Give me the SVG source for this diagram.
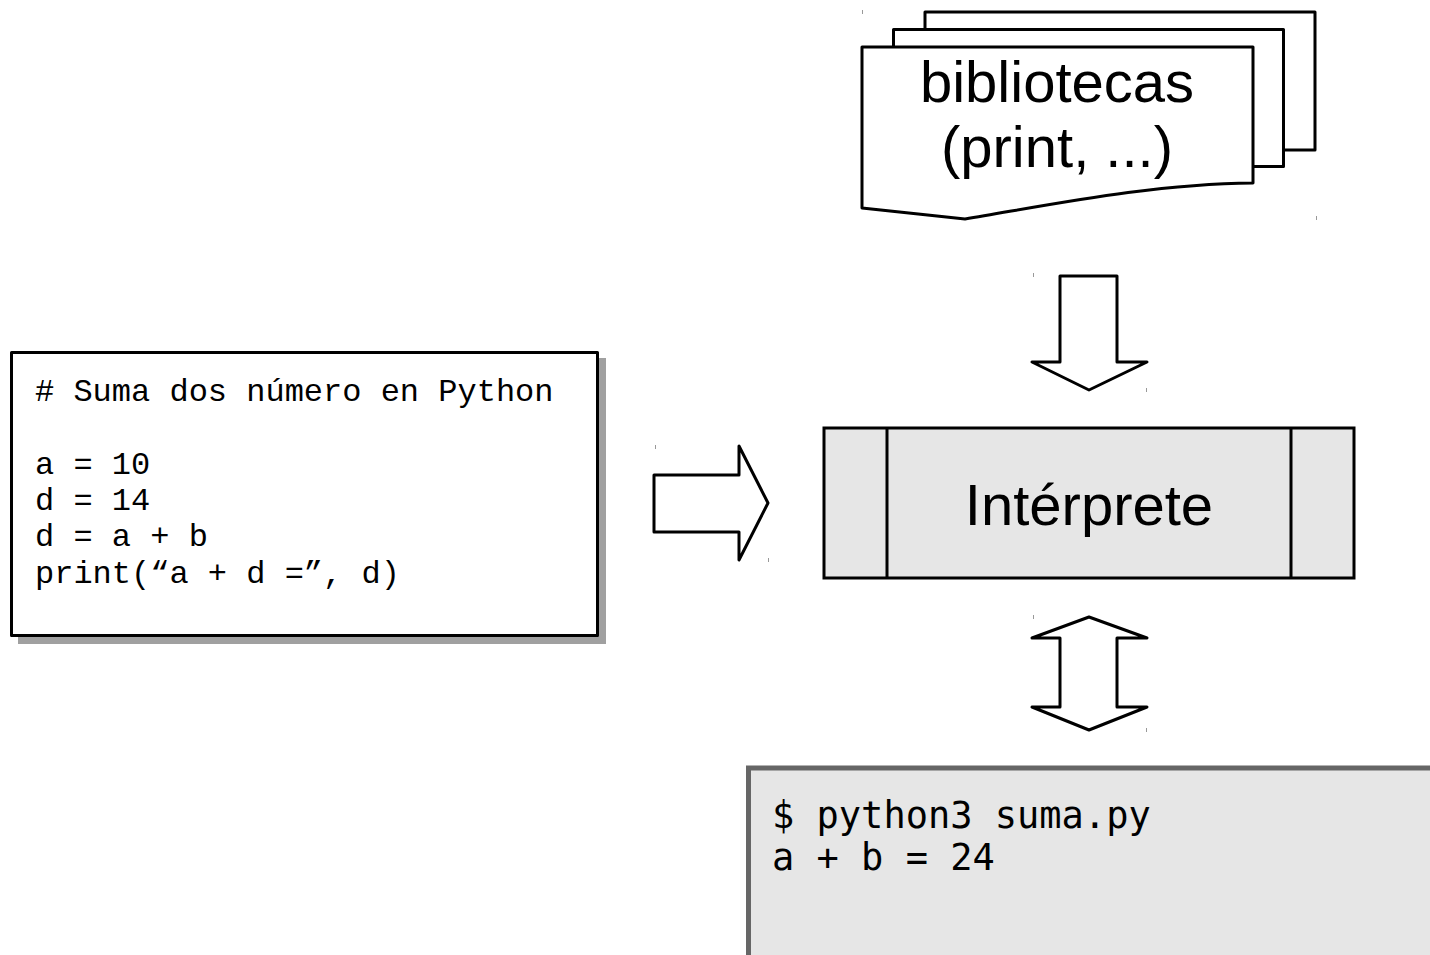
<svg xmlns="http://www.w3.org/2000/svg" width="1430" height="955" viewBox="0 0 1430 955">
  <style>
    .outline { fill: #ffffff; stroke: #000000; stroke-width: 3; stroke-linejoin: round; }
    .grey { fill: #e6e6e6; stroke: #000000; stroke-width: 3; }
    .label { font-family: "Liberation Sans", Arial, sans-serif; font-size: 58px; fill: #000000; text-anchor: middle; }
    .code { font-family: "Liberation Mono", "Courier New", monospace; font-size: 32px; fill: #000000; }
    .term { font-family: "DejaVu Sans Mono", monospace; font-size: 37px; fill: #000000; }
    .tick { stroke: #999999; stroke-width: 1; }
  </style>
  <rect width="1430" height="955" fill="#ffffff"/>

  <!-- stacked library documents -->
  <g id="bibliotecas">
    <rect class="outline" x="925" y="12" width="390" height="138"/>
    <rect class="outline" x="893.5" y="29.5" width="390" height="137"/>
    <path class="outline" d="M862,47 H1253 V183 C1150,184 1050,205 965,219 Q920,214 862,208 Z"/>
    <text class="label" x="1057" y="102">bibliotecas</text>
    <text class="label" x="1057" y="167">(print, ...)</text>
    <line class="tick" x1="862.5" y1="10" x2="862.5" y2="14"/>
    <line class="tick" x1="1316.5" y1="216" x2="1316.5" y2="220"/>
  </g>

  <!-- source code listing -->
  <g id="codigo">
    <rect x="18" y="358" width="588" height="286" fill="#a0a0a0"/>
    <rect class="outline" x="11.5" y="352.5" width="586" height="283" stroke-linejoin="miter"/>
    <text class="code" x="35" y="401">
      <tspan x="35" y="401"># Suma dos número en Python</tspan>
      <tspan x="35" y="474">a = 10</tspan>
      <tspan x="35" y="510">d = 14</tspan>
      <tspan x="35" y="546">d = a + b</tspan>
      <tspan x="35" y="583">print(“a + d =”, d)</tspan>
    </text>
  </g>

  <!-- interpreter process -->
  <g id="interprete">
    <rect class="grey" x="824" y="428" width="530" height="150"/>
    <line x1="887" y1="428" x2="887" y2="578" stroke="#000000" stroke-width="3"/>
    <line x1="1291" y1="428" x2="1291" y2="578" stroke="#000000" stroke-width="3"/>
    <text class="label" x="1089" y="525">Intérprete</text>
  </g>

  <!-- terminal output -->
  <g id="terminal">
    <rect x="748.5" y="768" width="720" height="190" fill="#e6e6e6" stroke="#666666" stroke-width="5"/>
    <text class="term" x="772" y="828">
      <tspan x="772" y="828">$ python3 suma.py</tspan>
      <tspan x="772" y="870">a + b = 24</tspan>
    </text>
  </g>

  <!-- block arrows -->
  <g id="conectores">
    <path class="outline" d="M654,475 H739 V446 L768,503 L739,560 V532 H654 Z"/>
    <path class="outline" d="M1060,276 H1117 V362 H1147 L1089,390 L1032,362 H1060 Z"/>
    <path class="outline" d="M1089,617 L1147,638 H1117 V707 H1147 L1089,730 L1032,707 H1060 V638 H1032 Z"/>
    <line class="tick" x1="655.5" y1="445" x2="655.5" y2="449"/>
    <line class="tick" x1="768.5" y1="558" x2="768.5" y2="562"/>
    <line class="tick" x1="1033.5" y1="273" x2="1033.5" y2="277"/>
    <line class="tick" x1="1146.5" y1="388" x2="1146.5" y2="392"/>
    <line class="tick" x1="1033.5" y1="615" x2="1033.5" y2="619"/>
    <line class="tick" x1="1146.5" y1="728" x2="1146.5" y2="732"/>
  </g>
</svg>
